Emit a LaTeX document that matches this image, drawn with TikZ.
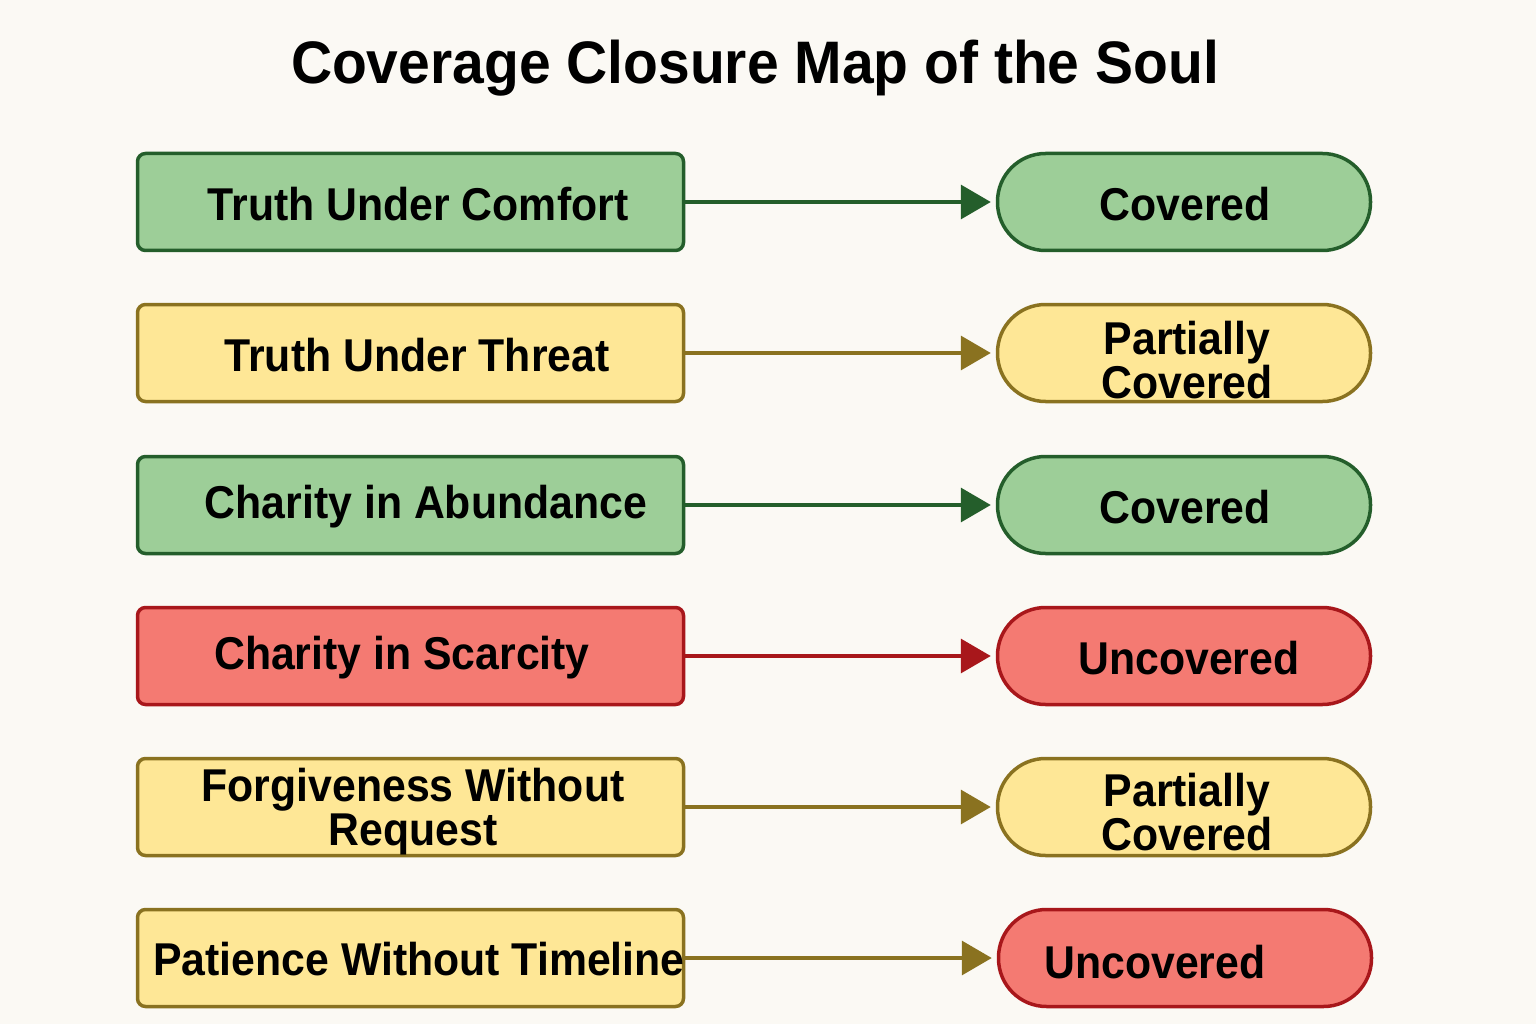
\documentclass[tikz,border=0pt]{standalone}
\usepackage{fontspec}
\setmainfont{Liberation Sans}
\newfontfamily\lblfont[FakeStretch=0.93]{Liberation Sans}
\newfontfamily\ttlfont[FakeStretch=0.95]{Liberation Sans}
\usetikzlibrary{arrows.meta}
\definecolor{bg}{HTML}{FBF9F4}
\definecolor{gfill}{HTML}{9DCE98}
\definecolor{gline}{HTML}{245E2B}
\definecolor{yfill}{HTML}{FEE796}
\definecolor{yline}{HTML}{8A7220}
\definecolor{rfill}{HTML}{F47A72}
\definecolor{rline}{HTML}{A8171B}
\tikzset{
  box/.style={draw, line width=3.5pt, rounded corners=8pt, minimum width=546pt, minimum height=97pt, inner sep=0pt},
  pill/.style={draw, line width=3.5pt, rounded corners=48pt, minimum width=373pt, minimum height=97pt, inner sep=0pt},
  lbl/.style={font=\lblfont\bfseries\fontsize{46}{44}\selectfont, align=center, text=black, inner sep=0pt},
  gr/.style={fill=gfill, draw=gline},
  ye/.style={fill=yfill, draw=yline},
  re/.style={fill=rfill, draw=rline},
  arr/.style={line width=3.5pt, shorten >=5pt, -{Triangle[length=30pt,width=34pt]}},
}
\begin{document}
\begin{tikzpicture}[x=1pt,y=-1pt]
\fill[bg] (0,0) rectangle (1536,1024);
\useasboundingbox (0,0) rectangle (1536,1024);
\node[font=\ttlfont\bfseries\fontsize{60}{60}\selectfont, inner sep=0pt] (title) at (755,68) {Coverage Closure Map of the Soul};

% left boxes
\node[box,gr] (l1) at (410.5,202) {};
\node[box,ye] (l2) at (410.5,353) {};
\node[box,gr] (l3) at (410.5,505) {};
\node[box,re] (l4) at (410.5,656) {};
\node[box,ye] (l5) at (410.5,807) {};
\node[box,ye] (l6) at (410.5,958) {};

% right pills
\node[pill,gr] (r1) at (1184,202) {};
\node[pill,ye] (r2) at (1184,353) {};
\node[pill,gr] (r3) at (1184,505) {};
\node[pill,re] (r4) at (1184,656) {};
\node[pill,ye] (r5) at (1184,807) {};
\node[pill,re] (r6) at (1185,958) {};

% connectors
\draw[arr,gline] (l1.east) -- (r1.west);
\draw[arr,yline] (l2.east) -- (r2.west);
\draw[arr,gline] (l3.east) -- (r3.west);
\draw[arr,rline] (l4.east) -- (r4.west);
\draw[arr,yline] (l5.east) -- (r5.west);
\draw[arr,yline] (l6.east) -- (r6.west);

% left texts
\node[lbl] (t1) at (418,204) {Truth Under Comfort};
\node[lbl] (t2) at (417,355) {Truth Under Threat};
\node[lbl] (t3) at (426,507) {Charity in Abundance};
\node[lbl] (t4) at (402,658) {Charity in Scarcity};
\node[lbl] (t5) at (413,812) {Forgiveness Without\\Request};
\node[lbl] (t6) at (419,959) {Patience Without Timeline};

% right texts
\node[lbl] (s1) at (1185,204) {Covered};
\node[lbl] (s2) at (1187,360) {Partially\\Covered};
\node[lbl] (s3) at (1185,507) {Covered};
\node[lbl] (s4) at (1189,658) {Uncovered};
\node[lbl] (s5) at (1187,812) {Partially\\Covered};
\node[lbl] (s6) at (1155,962) {Uncovered};
\end{tikzpicture}
\end{document}
